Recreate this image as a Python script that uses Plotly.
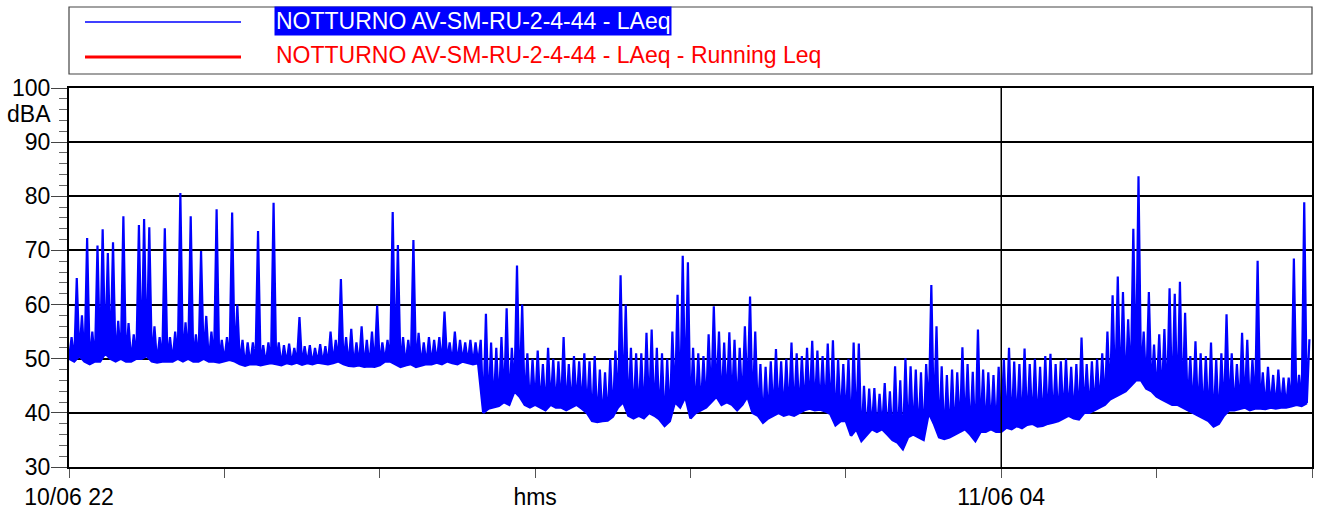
import plotly.graph_objects as go

# ---- data: per 2-minute bin, min (LO) and max (HI) of LAeq (dBA) ----
BIN_MIN = 2
HI = [
    54, 64.9, 58, 72.3, 55, 70.9, 73.9, 69.5, 71.5, 57,
    76.3, 56.6, 54.5, 74.7, 75.8, 74.3, 56, 54, 74.1, 54,
    55, 80.6, 56.7, 76.3, 54.5, 69.9, 57.9, 55, 77.6, 53.5,
    54, 77, 60, 53.5, 53, 53, 73.6, 52.5, 53, 78.8,
    53, 52.5, 52.8, 52, 57.7, 52.3, 52.5, 52, 52.7, 52.3,
    55, 53.5, 64.7, 54, 55.5, 53, 56, 53.5, 55, 59.8,
    53, 53.5, 77.1, 71.0, 54, 53.5, 71.9, 54.8, 53, 54,
    53.5, 54, 58.7, 53, 55, 53.5, 53, 53.5, 53, 53.5,
    58.3, 53, 52, 54, 59.3, 52, 67.2, 60, 51, 50,
    51.5, 49, 52, 50, 49.5, 54, 49, 50.5, 49.5, 51,
    49.5, 50.5, 48, 47.5, 50, 51.5, 65.4, 60, 52, 51,
    51, 54.8, 55.4, 52, 51, 50, 55, 61.8, 69, 67.8,
    52, 51, 50.5, 54.5, 59.7, 55, 53, 54.9, 53.5, 52,
    56, 61.5, 55, 49, 48.5, 49.5, 51.8, 49.5, 50, 53,
    51, 50.5, 52, 53.3, 51.5, 50.5, 52.8, 53.4, 50, 49,
    50, 53, 52.8, 45, 44.5, 44.6, 43.5, 45.5, 44, 48.6,
    46, 50.1, 48.6, 48, 47.5, 49, 63.6, 56, 48.6, 47,
    48, 47.5, 52.1, 49, 47.6, 55.4, 48, 47.5, 47, 48.5,
    50, 52, 49.5, 49, 51.9, 49, 50, 48.5, 50.5, 50.9,
    49, 49.5, 50, 48.5, 49, 53.9, 49, 49.5, 50, 51,
    55, 61.7, 65.2, 62.3, 57.3, 74, 83.7, 55, 62.3, 52.6,
    54.5, 55.5, 63, 62, 64.2, 58.5, 50.5, 53.2, 51, 50.5,
    53, 50, 51, 58.2, 51, 49, 54.8, 53.5, 50, 68.1,
    47.5, 48.5, 47, 48, 46.5, 46.5, 68.5, 47, 78.9, 53.6,
]
LO = [
    50, 49.5, 50.5, 49.5, 49, 49.5, 49.5, 51, 50, 49.5,
    50, 49.5, 49.5, 50, 50, 50.5, 49.5, 49.3, 49.5, 49.5,
    49.5, 50, 49.5, 50, 49.5, 49.5, 50, 49.5, 49.5, 49.3,
    49.5, 49.8, 49.5, 49, 48.7, 49, 49, 48.8, 49, 49.2,
    49, 48.8, 49.2, 49, 49.3, 48.9, 49.2, 49, 49.3, 49.1,
    49, 49.2, 49.5, 49, 48.7, 48.6, 48.8, 48.5, 48.6, 48.5,
    48.8, 49.5, 49.5, 49, 48.5, 48.8, 49, 48.5, 48.8, 49,
    49, 49.3, 49, 49.5, 49.2, 49, 49.5, 49.3, 49, 49.2,
    40, 40.8, 41, 41.3, 42, 41.5, 44, 43, 41.5, 41,
    41.5, 41, 40.5, 41.5, 41, 41, 40.5, 41, 41.5, 40.8,
    40, 38.5, 38.3, 38.5, 38.6, 39.3, 41, 42, 39.5, 39,
    39.5, 39, 40, 39.5, 38.8, 37.6, 38.5, 42, 41, 43,
    39, 40, 40.5, 41, 42, 43, 41.5, 42, 41.5, 40.5,
    41.5, 43, 40, 39.5, 38.2, 39, 39.5, 40, 39.5, 39.8,
    39.5, 40, 40.5, 40.8, 40.5, 40.6, 40.3, 39.8, 37.7, 38.5,
    38.5, 35.8, 37, 34.8, 36, 37, 36.5, 37, 36, 35,
    34.5, 33.3, 35.5, 36, 35.5, 35, 40, 38, 35.5, 35.2,
    35.5, 36, 36.5, 37, 36, 34.8, 36.5, 36.5, 37, 36.5,
    36.5, 37.3, 37, 37.6, 37.2, 37.8, 38, 37.5, 37.6, 38,
    38.2, 38.5, 39, 39.5, 39, 38.8, 40, 40, 40.5, 41,
    41.5, 42.5, 43, 43.5, 44, 45, 46, 46, 44.5, 44,
    43, 42.5, 42, 41.5, 41.5, 41, 40.5, 40, 39.5, 39,
    38.5, 37.5, 38, 39.5, 40.5, 40.5, 40.7, 41, 40.5, 40.8,
    40.8, 40.7, 41, 40.8, 41, 41, 41.2, 41.5, 41.3, 41.8,
]
TICK_MIN = [0, 60, 120, 180, 240, 300, 360, 420, 480]
TICK_TEXT = ["10/06 22", "", "", "hms", "", "", "11/06 04", "", ""]
Y_TICKS = [30, 40, 50, 60, 70, 80, 90, 100]
SERIES_NAME = "NOTTURNO AV-SM-RU-2-4-44 - LAeq"
RUNNING_NAME = "NOTTURNO AV-SM-RU-2-4-44 - LAeq - Running Leq"

# time axis in minutes after 22:00
t_lo = [BIN_MIN * i for i in range(len(LO))]
t, v = [], []
for i, (lo, hi) in enumerate(zip(LO, HI)):
    t += [BIN_MIN * i, BIN_MIN * i + 1]
    v += [lo, hi]

BLUE = "#0000ff"
FONT = "Liberation Sans, Arial, sans-serif"
W, H = 1318, 513
L, R, T, B = 69, 1312, 88, 467


def px(x):
    return (x - L) / (R - L)


def py(y):
    return (B - y) / (B - T)


fig = go.Figure()
# lower envelope of the dense record
fig.add_trace(go.Scatter(x=t_lo, y=LO, mode="lines", line=dict(color=BLUE, width=2.5),
                         showlegend=False, hoverinfo="skip"))
# min/max record, band filled down to the lower envelope
fig.add_trace(go.Scatter(x=t, y=v, mode="lines", line=dict(color=BLUE, width=2.2),
                         fill="tonexty", fillcolor=BLUE,
                         name=SERIES_NAME, showlegend=False, hoverinfo="skip"))

shapes = [
    dict(type="line", xref="x", yref="y", x0=360, x1=360, y0=30, y1=100,
         line=dict(color="black", width=1.5)),
    dict(type="rect", xref="paper", yref="paper", x0=px(69), x1=px(1312), y0=py(74), y1=py(7),
         line=dict(color="#444", width=1.2), fillcolor="white", layer="below"),
    dict(type="line", xref="paper", yref="paper", x0=px(85), x1=px(241), y0=py(22), y1=py(22),
         line=dict(color=BLUE, width=1.3)),
    dict(type="line", xref="paper", yref="paper", x0=px(85), x1=px(241), y0=py(57), y1=py(57),
         line=dict(color="#ff0000", width=3)),
]

annotations = [
    dict(text=SERIES_NAME, xref="paper", yref="paper", x=px(274), y=py(21), xanchor="left",
         yanchor="middle", showarrow=False, bgcolor=BLUE, borderpad=1,
         font=dict(family=FONT, size=23, color="white")),
    dict(text=RUNNING_NAME, xref="paper", yref="paper", x=px(274), y=py(55), xanchor="left",
         yanchor="middle", showarrow=False, font=dict(family=FONT, size=23, color="#ff0000")),
    dict(text="dBA", xref="paper", yref="paper", x=px(53), y=py(114), xanchor="right",
         yanchor="middle", showarrow=False, font=dict(family=FONT, size=23, color="black")),
]

fig.update_layout(
    width=W, height=H,
    margin=dict(l=L, r=W - R, t=T, b=H - B, pad=0, autoexpand=False),
    paper_bgcolor="white", plot_bgcolor="white",
    showlegend=False,
    font=dict(family=FONT, size=23, color="black"),
    shapes=shapes, annotations=annotations,
    xaxis=dict(range=[0, 480], tickmode="array", tickvals=TICK_MIN, ticktext=TICK_TEXT,
               automargin=False,
               ticks="outside", ticklen=9, tickwidth=1, tickcolor="#555",
               ticklabelstandoff=-1,
               showgrid=False, zeroline=False, showline=True, linecolor="black",
               linewidth=2, mirror=True, tickfont=dict(family=FONT, size=23, color="black")),
    yaxis=dict(range=[30, 100], tickmode="array", tickvals=Y_TICKS,
               automargin=False,
               ticks="outside", ticklen=16, tickwidth=1, tickcolor="#444",
               ticklabelstandoff=-4,
               minor=dict(dtick=2, tick0=30, ticks="outside", ticklen=8, tickcolor="#666",
                          showgrid=False),
               showgrid=True, gridcolor="black", gridwidth=2, zeroline=False,
               showline=True, linecolor="black", linewidth=2, mirror=True,
               tickfont=dict(family=FONT, size=23, color="black")),
)

fig.write_html(
    "out.html",
    config={"displayModeBar": False},
    post_script=(
        "document.documentElement.style.margin='0px';"
        "document.documentElement.style.overflow='hidden';"
        "document.body.style.margin='0px';"
        "document.body.style.overflow='hidden';"
    ),
)
